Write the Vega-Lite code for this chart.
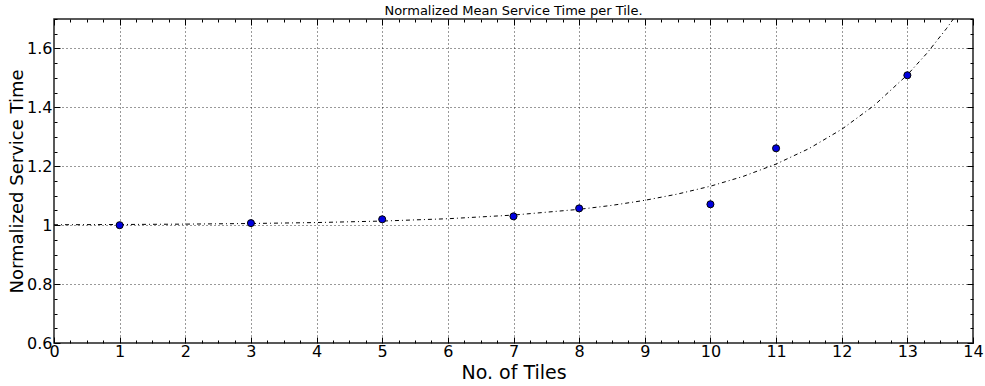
{
  "$schema": "https://vega.github.io/schema/vega-lite/v6.json",
  "autosize": {"type": "none"},
  "width": 919,
  "height": 324,
  "padding": {"left": 54, "top": 19, "right": 12, "bottom": 43},
  "background": "white",
  "title": {"text": "Normalized Mean Service Time per Tile.", "fontSize": 13, "fontWeight": "normal", "font": "DejaVu Sans", "color": "black", "offset": -7},
  "config": {
    "view": {"stroke": "#222", "strokeWidth": 1.5},
    "axis": {"labelFont": "DejaVu Sans", "titleFont": "DejaVu Sans", "labelColor": "black", "titleColor": "black", "titleFontWeight": "normal", "labelOverlap": false, "labelBound": false, "labelFlush": false, "domain": false, "tickColor": "black"}
  },
  "datasets": {
    "pts": [
      {"tiles": 1, "time": 1.0},
      {"tiles": 3, "time": 1.007},
      {"tiles": 5, "time": 1.02},
      {"tiles": 7, "time": 1.03},
      {"tiles": 8, "time": 1.057},
      {"tiles": 10, "time": 1.071},
      {"tiles": 11, "time": 1.261},
      {"tiles": 13, "time": 1.509}
    ],
    "fit": [
      {"tiles": 0, "time": 1.0015},
      {"tiles": 1, "time": 1.0023},
      {"tiles": 2, "time": 1.0036},
      {"tiles": 3, "time": 1.0057},
      {"tiles": 4, "time": 1.0089},
      {"tiles": 5, "time": 1.014},
      {"tiles": 6, "time": 1.0219},
      {"tiles": 7, "time": 1.0343},
      {"tiles": 8, "time": 1.0538},
      {"tiles": 8.5, "time": 1.0673},
      {"tiles": 9, "time": 1.0844},
      {"tiles": 9.5, "time": 1.1057},
      {"tiles": 10, "time": 1.1323},
      {"tiles": 10.5, "time": 1.1657},
      {"tiles": 11, "time": 1.2075},
      {"tiles": 11.5, "time": 1.2599},
      {"tiles": 12, "time": 1.3255},
      {"tiles": 12.5, "time": 1.4076},
      {"tiles": 13, "time": 1.5104},
      {"tiles": 13.3, "time": 1.5843},
      {"tiles": 13.6, "time": 1.6687},
      {"tiles": 13.7, "time": 1.70}
    ]
  },
  "layer": [
    {
      "data": {"name": "fit"},
      "mark": {"type": "line", "color": "black", "strokeWidth": 1, "strokeDash": [4, 3, 1, 3], "clip": true},
      "encoding": {
        "x": {"field": "tiles", "type": "quantitative", "scale": {"domain": [0, 14], "nice": false, "zero": false},
          "axis": {"orient": "top", "title": null, "labels": false, "grid": false,
            "values": [0,0.25,0.5,0.75,1,1.25,1.5,1.75,2,2.25,2.5,2.75,3,3.25,3.5,3.75,4,4.25,4.5,4.75,5,5.25,5.5,5.75,6,6.25,6.5,6.75,7,7.25,7.5,7.75,8,8.25,8.5,8.75,9,9.25,9.5,9.75,10,10.25,10.5,10.75,11,11.25,11.5,11.75,12,12.25,12.5,12.75,13,13.25,13.5,13.75,14],
            "tickSize": {"condition": {"test": "datum.value % 1 === 0", "value": -6}, "value": -3}}},
        "y": {"field": "time", "type": "quantitative", "scale": {"domain": [0.6, 1.7], "nice": false, "zero": false},
          "axis": {"orient": "right", "title": null, "labels": false, "grid": false,
            "values": [0.6,0.65,0.7,0.75,0.8,0.85,0.9,0.95,1,1.05,1.1,1.15,1.2,1.25,1.3,1.35,1.4,1.45,1.5,1.55,1.6,1.65,1.7],
            "tickSize": {"condition": {"test": "abs(datum.value*5 - round(datum.value*5)) < 0.001", "value": -6}, "value": -3}}}
      }
    },
    {
      "data": {"name": "pts"},
      "mark": {"type": "point", "filled": true, "fill": "#0000e0", "stroke": "black", "strokeWidth": 1, "size": 50, "opacity": 1},
      "encoding": {
        "x": {"field": "tiles", "type": "quantitative", "scale": {"domain": [0, 14], "nice": false, "zero": false},
          "axis": {"orient": "bottom", "title": "No. of Tiles", "titleFontSize": 19, "titlePadding": 1, "labelFontSize": 16, "labelPadding": 6,
            "format": "~g",
            "values": [0,0.25,0.5,0.75,1,1.25,1.5,1.75,2,2.25,2.5,2.75,3,3.25,3.5,3.75,4,4.25,4.5,4.75,5,5.25,5.5,5.75,6,6.25,6.5,6.75,7,7.25,7.5,7.75,8,8.25,8.5,8.75,9,9.25,9.5,9.75,10,10.25,10.5,10.75,11,11.25,11.5,11.75,12,12.25,12.5,12.75,13,13.25,13.5,13.75,14],
            "labelExpr": "datum.value % 1 === 0 ? datum.label : ''",
            "grid": true, "gridColor": "black", "gridDash": [1, 3], "gridWidth": 1,
            "gridOpacity": {"condition": {"test": "datum.value % 1 === 0 && datum.value > 0 && datum.value < 14", "value": 0.8}, "value": 0},
            "tickSize": {"condition": {"test": "datum.value % 1 === 0", "value": -6}, "value": -3}}},
        "y": {"field": "time", "type": "quantitative", "scale": {"domain": [0.6, 1.7], "nice": false, "zero": false},
          "axis": {"orient": "left", "title": "Normalized Service Time", "titleFontSize": 18, "titlePadding": 0, "labelFontSize": 16, "labelPadding": 8,
            "values": [0.6,0.65,0.7,0.75,0.8,0.85,0.9,0.95,1,1.05,1.1,1.15,1.2,1.25,1.3,1.35,1.4,1.45,1.5,1.55,1.6,1.65,1.7],
            "labelExpr": "abs(datum.value*5 - round(datum.value*5)) < 0.001 && datum.value < 1.65 ? format(datum.value, '~g') : ''",
            "grid": true, "gridColor": "black", "gridDash": [1, 3], "gridWidth": 1,
            "gridOpacity": {"condition": {"test": "abs(datum.value*5 - round(datum.value*5)) < 0.001 && datum.value > 0.65 && datum.value < 1.65", "value": 0.8}, "value": 0},
            "tickSize": {"condition": {"test": "abs(datum.value*5 - round(datum.value*5)) < 0.001", "value": -6}, "value": -3}}}
      }
    }
  ],
  "resolve": {"axis": {"x": "independent", "y": "independent"}}
}
